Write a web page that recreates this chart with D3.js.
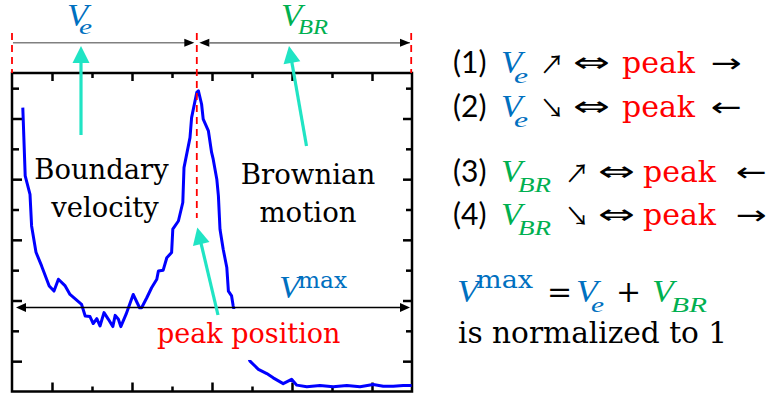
<!DOCTYPE html>
<html>
<head>
<meta charset="utf-8">
<script src="https://cdn.jsdelivr.net/npm/d3@7"></script>
<style>
  body { margin: 0; background: #fff; }
  svg { display: block; }
</style>
</head>
<body>
<svg id="chart" width="768" height="393"></svg>
<script>
// Velocity profile sampled along the channel (normalised units)
const posX = [0.27, 0.33, 0.45, 0.49, 0.60, 0.74, 0.93, 1.05, 1.16, 1.33, 1.45, 1.74, 1.83, 1.95, 2.03, 2.12,
  2.20, 2.30, 2.41, 2.52, 2.58, 2.66, 2.72, 2.85, 3.03, 3.12, 3.19, 3.24, 3.37, 3.49, 3.62, 3.66, 3.78,
  3.87, 3.99, 4.02, 4.16, 4.27, 4.30, 4.45, 4.49, 4.62, 4.66, 4.74, 4.78, 4.91, 4.99, 5.03, 5.12, 5.16,
  5.20, 5.28, 5.37, 5.41, 5.49, 5.53, 5.60, 5.70, 5.80, 5.95, 6.16, 6.37, 6.53, 6.78, 6.99, 7.12, 7.37,
  7.70, 8.03, 8.37, 8.70, 9.03, 9.28, 9.53, 9.78, 9.99];
const velY = [9.36, 7.11, 6.50, 5.46, 4.59, 4.14, 3.48, 3.31, 3.70, 3.48, 3.20, 2.87, 2.49, 2.47, 2.24, 2.40,
  2.16, 2.60, 2.38, 2.14, 2.51, 2.38, 2.14, 2.54, 3.20, 2.95, 2.76, 2.76, 3.09, 3.42, 3.70, 3.97, 4.00,
  4.41, 4.58, 5.35, 5.62, 6.23, 7.38, 8.37, 9.03, 9.86, 9.91, 9.47, 8.98, 8.59, 7.88, 7.66, 7.00, 6.45,
  5.35, 4.69, 4.09, 3.31, 3.15, 2.82, 2.38, 1.88, 1.45, 1.00, 0.73, 0.59, 0.45, 0.26, 0.40, 0.21, 0.16,
  0.20, 0.16, 0.20, 0.16, 0.23, 0.17, 0.17, 0.20, 0.20];

const xTicksMajor = [1, 3, 5, 7, 9];
const xTicksMinor = [2, 4, 6, 8];
const yTicksMajor = [1, 3, 5, 7, 9];
const yTicksMinor = [2, 4, 6, 8, 10];

const peakX = 4.62;      // position of the velocity peak
const vmaxLevel = 2.77;  // V^max reference level

const plot = { left: 12, top: 73, right: 412, bottom: 391.5 };
const x = d3.scaleLinear().domain([0, 10]).range([plot.left, plot.right]);
const y = d3.scaleLinear().domain([0, 10.5]).range([plot.bottom, plot.top]);

const svg = d3.select("#chart");
const cyan = "#20E4C4";
const blue = "#0070C0";
const green = "#00B050";
const red = "#FF0000";
const serif = "'DejaVu Serif', serif";
const mathFont = "'Liberation Serif', serif";

// arrow: shaft from tail to the base of a filled triangular head at the tip
function arrow(g, x1, y1, x2, y2, opt) {
  const dx = x2 - x1, dy = y2 - y1, len = Math.hypot(dx, dy);
  const ux = dx / len, uy = dy / len, nx = -uy, ny = ux;
  const bx = x2 - ux * opt.head, by = y2 - uy * opt.head;
  g.append("line").attr("x1", x1).attr("y1", y1).attr("x2", bx + ux).attr("y2", by + uy)
    .attr("stroke", opt.line || opt.color).attr("stroke-width", opt.width);
  g.append("path")
    .attr("d", `M${x2},${y2}L${bx + nx * opt.half},${by + ny * opt.half}L${bx - nx * opt.half},${by - ny * opt.half}Z`)
    .attr("fill", opt.color);
}

// ---- inward tick marks on all four sides ----
function ticks(axisFn, scale, vals, size, transform) {
  svg.append("g").attr("transform", transform)
    .call(axisFn(scale).tickValues(vals).tickSize(size).tickFormat(""))
    .call(g => g.select(".domain").remove())
    .call(g => g.selectAll("line").attr("stroke", "#000").attr("stroke-width", 2.5));
}
ticks(d3.axisBottom, x, xTicksMajor, -9, `translate(0,${plot.bottom})`);
ticks(d3.axisBottom, x, xTicksMinor, -5, `translate(0,${plot.bottom})`);
ticks(d3.axisTop, x, xTicksMajor, -8, `translate(0,${plot.top})`);
ticks(d3.axisTop, x, xTicksMinor, -5, `translate(0,${plot.top})`);
ticks(d3.axisLeft, y, yTicksMajor, -10, `translate(${plot.left},0)`);
ticks(d3.axisLeft, y, yTicksMinor, -7, `translate(${plot.left},0)`);
ticks(d3.axisRight, y, yTicksMajor, -9, `translate(${plot.right},0)`);
ticks(d3.axisRight, y, yTicksMinor, -6, `translate(${plot.right},0)`);

svg.append("rect")
  .attr("x", plot.left).attr("y", plot.top)
  .attr("width", plot.right - plot.left).attr("height", plot.bottom - plot.top)
  .attr("fill", "none").attr("stroke", "#000").attr("stroke-width", 2.5);

// ---- velocity curve ----
const pts = posX.map((v, i) => [v, velY[i]]);
svg.append("path").datum(pts)
  .attr("d", d3.line().x(d => x(d[0])).y(d => y(d[1])))
  .attr("fill", "none").attr("stroke", "#0000FF").attr("stroke-width", 3)
  .attr("stroke-linejoin", "round");

// label box for "peak position"
svg.append("rect").attr("x", 150).attr("y", y(vmaxLevel) + 1.5).attr("width", 196).attr("height", 51)
  .attr("fill", "#fff");

// ---- red dashed boundaries ----
const dash = "7,5";
[[0, 33, plot.top], [peakX, 33, 218], [10, 33, plot.top]].forEach(([v, y1, y2]) => {
  const xx = v === 10 ? x(v) - 0.8 : x(v);
  svg.append("line").attr("x1", xx).attr("x2", xx).attr("y1", y1).attr("y2", y2)
    .attr("stroke", red).attr("stroke-width", 1.8).attr("stroke-dasharray", dash);
});

// ---- span arrows above the plot ----
const gTop = svg.append("g");
const spanY = 42.7;
const spanOpt = { color: "#000", line: "#808080", width: 1.5, head: 10, half: 4 };
arrow(gTop, x(0) + 1, spanY, x(peakX) - 2.5, spanY, spanOpt);
arrow(gTop, x(10) - 2, spanY, x(peakX) + 2.5, spanY, spanOpt);
arrow(gTop, x(peakX) + 12, spanY, x(10) - 2, spanY, spanOpt);

// ---- V^max double arrow ----
const gMax = svg.append("g");
const vy = y(vmaxLevel);
arrow(gMax, (x(0) + x(10)) / 2, vy, x(0) + 4, vy, { color: "#000", width: 1.3, head: 10, half: 4.5 });
arrow(gMax, (x(0) + x(10)) / 2, vy, x(10) - 2, vy, { color: "#000", width: 1.3, head: 10, half: 4.5 });

// ---- cyan pointer arrows ----
const gC = svg.append("g");
const cy = { color: cyan, width: 3.2, head: 17, half: 8.5 };
arrow(gC, 81, 135, 81, 46, cy);
arrow(gC, 306.5, 146, 289, 46, cy);
arrow(gC, 218, 315, x(peakX) + 0.5, 227.5, cy);

// ---- text helpers ----
function txt(xp, yp, s, o = {}) {
  return svg.append("text").attr("x", xp).attr("y", yp).text(s)
    .attr("font-family", o.family || serif).attr("font-size", o.size || 27)
    .attr("fill", o.color || "#000").attr("font-style", o.style || "normal")
    .attr("text-anchor", o.anchor || "start");
}
function sym(xp, yp, s, w, size, family) {
  txt(xp, yp, s, { family: family || "'DejaVu Sans', sans-serif", size })
    .attr("textLength", w).attr("lengthAdjust", "spacingAndGlyphs");
}
// italic V with a subscript (italic) or superscript (upright)
function vsym(xp, yp, color, size, sub, subX, subDy, subSize, subW) {
  txt(xp, yp, "V", { family: mathFont, size, color, style: "italic" })
    .attr("textLength", size * 0.68).attr("lengthAdjust", "spacingAndGlyphs");
  const italic = sub !== "max";
  const t = txt(subX, yp + subDy, sub, {
    family: italic ? mathFont : serif, size: subSize, color, style: italic ? "italic" : "normal"
  });
  if (subW) t.attr("textLength", subW).attr("lengthAdjust", "spacingAndGlyphs");
}

// span labels
vsym(67, 25.5, blue, 31, "e", 79, 8, 22, 13);
vsym(281, 25.5, green, 31, "BR", 298, 8, 21, 30);

// region labels
txt(101.5, 179, "Boundary", { anchor: "middle", size: 27.4 });
txt(105, 216.7, "velocity", { anchor: "middle", size: 27.4 });
txt(308, 184, "Brownian", { anchor: "middle", size: 27.6 });
txt(308, 221.7, "motion", { anchor: "middle", size: 27.6 });
txt(157, 343, "peak position", { size: 27, color: red });
vsym(279, 298, blue, 31, "max", 298, -10, 23, 49);

// ---- rules on the right ----
const rows = [
  { n: "(1)", b: 73, v: "e", col: blue, dir: "↗", res: "→" },
  { n: "(2)", b: 117, v: "e", col: blue, dir: "↘", res: "←" },
  { n: "(3)", b: 182, v: "BR", col: green, dir: "↗", res: "←" },
  { n: "(4)", b: 225, v: "BR", col: green, dir: "↘", res: "→" }
];
rows.forEach(r => {
  const br = r.v === "BR";
  txt(453, r.b, r.n, { family: "Lato, sans-serif", size: 30 });
  vsym(501, r.b, r.col, 31, r.v, br ? 518 : 514, 9.5, br ? 21 : 22, br ? 33 : 14);
  const o = br ? 25 : 0;
  sym(540 + o, r.b + 1, r.dir, 24, 26, "'Noto Sans CJK JP', sans-serif");
  sym(573 + o, r.b - 1, "⇔", 37, 28);
  txt(622 + (br ? 21 : 0), r.b, "peak", { size: 30, color: red });
  sym((br ? 736 : 711), r.b - 1, r.res, 31, 26);
});

// ---- normalisation note ----
vsym(457, 302, blue, 32, "max", 476, -14, 25, 57);
txt(547, 302, "=", { size: 30 });
vsym(576, 302, blue, 32, "e", 591, 9.5, 22, 13);
txt(616, 302, "+", { size: 30 });
vsym(652, 302, green, 32, "BR", 671, 9.5, 21, 36);
txt(458, 343, "is normalized to 1", { size: 29.6 });
</script>
</body>
</html>
